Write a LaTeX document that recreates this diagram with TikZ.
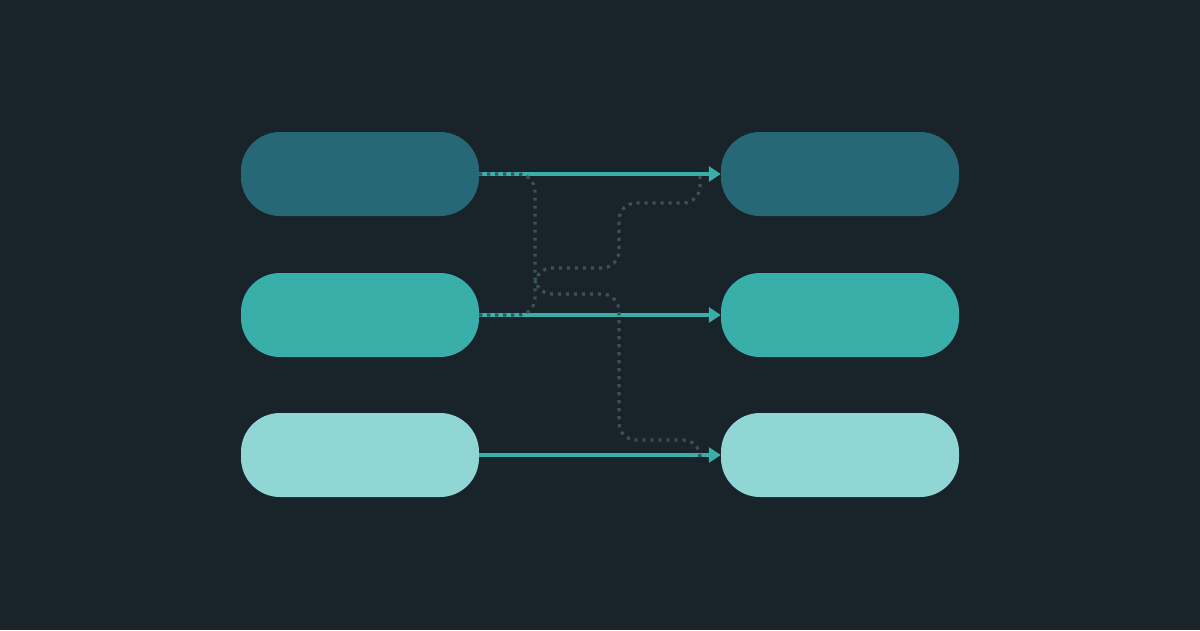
\documentclass[tikz,border=0pt]{standalone}
\usetikzlibrary{arrows.meta}
\definecolor{bg}{HTML}{18232A}
\definecolor{cdark}{HTML}{276876}
\definecolor{cmid}{HTML}{3AAFA9}
\definecolor{clight}{HTML}{90D6D5}
\definecolor{cdot}{HTML}{3A5157}
\tikzset{
  pill/.style={rectangle, rounded corners=39pt, minimum width=238pt, minimum height=84pt, inner sep=0pt, draw=none},
  flow/.style={draw=cmid, line width=3.6pt, -{Triangle[length=12pt,width=15pt]}},
  alt/.style={draw=cdot, line width=3.2pt, dash pattern=on 3.2pt off 4.8pt, rounded corners=17pt},
}
\begin{document}
\begin{tikzpicture}[x=1pt,y=-1pt]
\fill[bg] (0,0) rectangle (1200,630);
\useasboundingbox (0,0) rectangle (1200,630);
\node[pill, fill=cdark] (l1) at (360,174) {};
\node[pill, fill=cmid] (l2) at (360,315) {};
\node[pill, fill=clight] (l3) at (360,455) {};
\node[pill, fill=cdark] (r1) at (840,174) {};
\node[pill, fill=cmid] (r2) at (840,315) {};
\node[pill, fill=clight] (r3) at (840,455) {};
\coordinate (e1) at (700,174);
\coordinate (e3) at (700,455);
\draw[flow] (l1.east) -- (r1.west);
\draw[flow] (l2.east) -- (r2.west);
\draw[flow] (l3.east) -- (r3.west);
\draw[alt] (l1.east) -- (535,174) -- (535,294) -- (619,294) -- (619,440) -- (700,440) -- (e3);
\draw[alt] (l2.east) -- (535,315) -- (535,268) -- (619,268) -- (619,203) -- (700,203) -- (e1);
\end{tikzpicture}
\end{document}
